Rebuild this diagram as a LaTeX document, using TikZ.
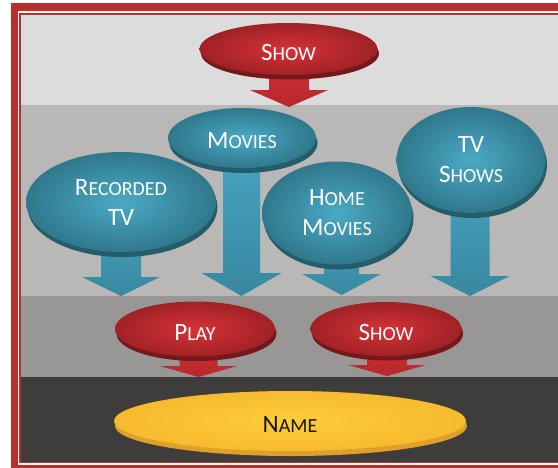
\documentclass[tikz,border=0pt]{standalone}
\usepackage{fontspec}
\setmainfont{Carlito}
\usetikzlibrary{shapes.geometric,calc}
\definecolor{framered}{RGB}{186,46,43}
\definecolor{bandA}{RGB}{220,220,220}
\definecolor{bandB}{RGB}{185,184,182}
\definecolor{bandC}{RGB}{152,151,150}
\definecolor{bandD}{RGB}{62,61,60}
\definecolor{redin}{RGB}{214,50,55}
\definecolor{redout}{RGB}{160,34,38}
\definecolor{redrim}{RGB}{118,24,27}
\definecolor{tealin}{RGB}{74,170,198}
\definecolor{tealout}{RGB}{48,120,140}
\definecolor{tealrim}{RGB}{36,92,106}
\definecolor{yelin}{RGB}{253,205,58}
\definecolor{yelout}{RGB}{246,186,46}
\definecolor{yelrim}{RGB}{222,160,42}
\definecolor{tealtop}{RGB}{72,166,194}
\definecolor{tealbot}{RGB}{56,136,160}
\definecolor{redtop}{RGB}{214,52,58}
\definecolor{redbot}{RGB}{184,38,44}
\definecolor{nametext}{RGB}{20,20,20}
\pgfdeclarelayer{back}
\pgfdeclarelayer{arrowlayer}
\pgfsetlayers{back,arrowlayer,main}
\newcommand\smc[2]{{\fontsize{25}{30}\selectfont #1}{\fontsize{20}{30}\selectfont #2}}
\newcommand\lowered[1]{\raisebox{-3pt}[\height][\depth]{#1}}
\newcommand\blockarrow[6]{%
  \shade[#6] ($(#2 |- #1.center)+(-#3,0)$) -- ($(#2)+(-#3,-#5)$) -- ($(#2)+(-#4,-#5)$) -- (#2)
    -- ($(#2)+(#4,-#5)$) -- ($(#2)+(#3,-#5)$) -- ($(#2 |- #1.center)+(#3,0)$) -- cycle;}
\tikzset{
  disc/.style={ellipse, inner sep=0pt, text=white, align=center,
    font=\fontsize{25}{30}\selectfont},
  reddisc/.style={disc, shade, inner color=redin, outer color=redout,
    preaction={fill=redrim, transform canvas={shift={(1.5pt,-4.5pt)}}}},
  tealdisc/.style={disc, shade, inner color=tealin, outer color=tealout,
    preaction={fill=tealrim, transform canvas={shift={(1.5pt,-5pt)}}}},
  yeldisc/.style={disc, shade, inner color=yelin, outer color=yelout, text=nametext,
    preaction={fill=yelrim, transform canvas={shift={(1pt,-5pt)}}}},
  tealarrow/.style={top color=tealtop, bottom color=tealbot},
  redarrow/.style={top color=redtop, bottom color=redbot}
}
\begin{document}
\begin{tikzpicture}[x=1pt,y=-1pt]
\useasboundingbox (0,0) rectangle (558,467);
\clip (0,0) rectangle (558,467);
\begin{pgfonlayer}{back}
  \fill[white] (0,0) rectangle (558,467);
  \fill[framered] (10.7,3.3) rectangle (570,480);
  \fill[white] (17.5,10.9) rectangle (570,464.7);
  \fill[framered] (19,12.7) rectangle (570,463);
  \fill[bandA] (20.7,14.7) rectangle (570,105);
  \fill[bandB] (20.7,105) rectangle (570,296);
  \fill[bandC] (20.7,296) rectangle (570,377);
  \fill[bandD] (20.7,377) rectangle (570,461.5);
\end{pgfonlayer}

\node[reddisc, minimum width=178pt, minimum height=52pt] (show) at (288.5,49) {\lowered{\smc{S}{HOW}}};
\node[tealdisc, minimum width=149pt, minimum height=106pt] (tvshows) at (471,160) {TV\\\smc{S}{HOWS}};
\node[tealdisc, minimum width=150pt, minimum height=103pt] (home) at (337,213) {\smc{H}{OME}\\\smc{M}{OVIES}};
\node[tealdisc, minimum width=190pt, minimum height=100pt] (recorded) at (121,202) {\smc{R}{ECORDED}\\TV};
\node[tealdisc, minimum width=148pt, minimum height=60pt] (movies) at (242,138) {\lowered{\smc{M}{OVIES}}};
\node[reddisc, minimum width=160pt, minimum height=55pt] (play) at (195,329) {\lowered{\smc{P}{LAY}}};
\node[reddisc, minimum width=151pt, minimum height=54pt] (show2) at (386,329) {\lowered{\smc{S}{HOW}}};
\node[yeldisc, minimum width=352pt, minimum height=60pt] (name) at (290,421) {\lowered{\smc{N}{AME}}};

\coordinate (tA) at (289,107);
\coordinate (tB) at (121,296);
\coordinate (tC) at (241.5,296);
\coordinate (tD) at (341.5,295);
\coordinate (tE) at (470,296);
\coordinate (tF) at (198.5,377);
\coordinate (tG) at (387,376);

\begin{pgfonlayer}{arrowlayer}
  \blockarrow{show}{tA}{20}{39}{17}{redarrow}
  \blockarrow{recorded}{tB}{20}{39}{19}{tealarrow}
  \blockarrow{movies}{tC}{18.5}{40}{23}{tealarrow}
  \blockarrow{home}{tD}{17.5}{39.5}{21}{tealarrow}
  \blockarrow{tvshows}{tE}{19.5}{39.5}{20}{tealarrow}
  \blockarrow{play}{tF}{19}{38.5}{11}{redarrow}
  \blockarrow{show2}{tG}{20}{39}{11}{redarrow}
\end{pgfonlayer}
\end{tikzpicture}
\end{document}
